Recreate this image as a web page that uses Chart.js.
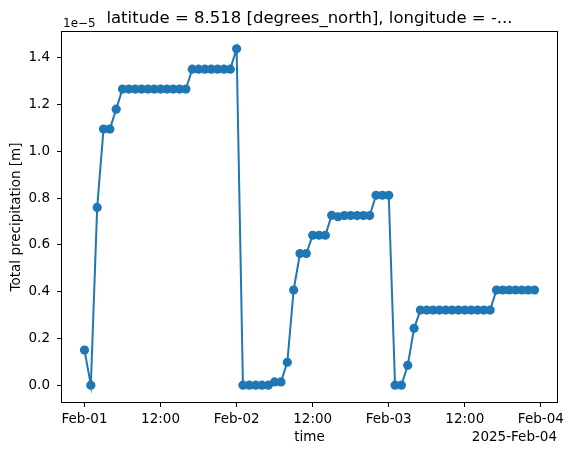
<!DOCTYPE html>
<html>
<head>
<meta charset="utf-8">
<script src="https://cdn.jsdelivr.net/npm/chart.js@4"></script>
<style>
  body { margin: 0; background: #fff; }
  #wrap { width: 574px; height: 455px; }
</style>
</head>
<body>
<div id="wrap"><canvas id="myChart" width="574" height="455"></canvas></div>
<script>
// hourly precipitation, in units of 1e-5 m, starting 2025-02-01 00:00
const precipValues = [
  0.15, 0, 0.76, 1.095, 1.095, 1.18,
  1.266, 1.266, 1.266, 1.266, 1.266, 1.266, 1.266, 1.266, 1.266, 1.266, 1.266,
  1.351, 1.351, 1.351, 1.351, 1.351, 1.351, 1.351,
  1.438,
  0, 0, 0, 0, 0, 0.014, 0.014, 0.098, 0.407, 0.563, 0.563,
  0.641, 0.641, 0.641,
  0.726, 0.72, 0.725, 0.725, 0.725, 0.725, 0.725,
  0.812, 0.812, 0.812,
  0, 0, 0.085, 0.243,
  0.321, 0.321, 0.321, 0.321, 0.321, 0.321, 0.321, 0.321, 0.321, 0.321, 0.321, 0.321,
  0.407, 0.407, 0.407, 0.407, 0.407, 0.407, 0.407,
];
const xTickHours = [0, 12, 24, 36, 48, 60, 72];
const xTickLabels = ["Feb-01", "12:00", "Feb-02", "12:00", "Feb-03", "12:00", "Feb-04"];
const yTicks = [0, 0.2, 0.4, 0.6, 0.8, 1.0, 1.2, 1.4];

const titleText = "latitude = 8.518 [degrees_north], longitude = -...";
const offsetText = "1e\u22125";
const dateOffsetText = "2025-Feb-04";
const blue = "#1f77b4";
const font = "DejaVu Sans";

const points = precipValues.map((v, i) => ({ x: i, y: v }));

// matplotlib-ish margins (5%)
const xPad = (precipValues.length - 1) * 0.05;
const yMax = Math.max(...precipValues);
const yPad = yMax * 0.05;

const extras = {
  id: "extras",
  afterDraw(chart) {
    const c = chart.ctx;
    const a = chart.chartArea;
    c.save();
    c.strokeStyle = "#000";
    c.lineWidth = 1;
    c.strokeRect(Math.round(a.left) - 0.5, Math.round(a.top) - 0.5,
      Math.round(a.right - a.left) + 1, Math.round(a.bottom - a.top) + 1);

    c.fillStyle = "#000";
    c.textBaseline = "alphabetic";
    c.font = `16.5px "${font}"`;
    c.textAlign = "center";
    c.fillText(titleText, (a.left + a.right) / 2, 23);

    c.font = `12px "${font}"`;
    c.textAlign = "left";
    c.fillText(offsetText, a.left + 1, 27);

    c.font = `13.5px "${font}"`;
    c.textAlign = "center";
    c.fillText("time", (a.left + a.right) / 2, 441);
    c.textAlign = "right";
    c.fillText(dateOffsetText, a.right, 441);

    c.translate(20, (a.top + a.bottom) / 2);
    c.rotate(-Math.PI / 2);
    c.textAlign = "center";
    c.fillText("Total precipitation [m]", 0, 0);
    c.restore();
  },
};

const lineChart = {
  type: "line",
  data: {
    datasets: [
      {
        data: points,
        borderColor: blue,
        backgroundColor: blue,
        borderWidth: 2,
        pointRadius: 4.6,
        pointBorderWidth: 0,
        pointBackgroundColor: blue,
        tension: 0,
      },
    ],
  },
  options: {
    responsive: false,
    animation: false,
    devicePixelRatio: 1,
    layout: { padding: { left: 0, top: 32, right: 17, bottom: 0 } },
    plugins: {
      legend: { display: false },
      tooltip: { enabled: false },
      title: { display: false },
    },
    scales: {
      x: {
        type: "linear",
        min: -xPad,
        max: precipValues.length - 1 + xPad,
        afterFit: (s) => { s.height = 53; },
        afterBuildTicks: (s) => { s.ticks = xTickHours.map((v) => ({ value: v })); },
        grid: { display: true, drawOnChartArea: false, drawTicks: true, tickLength: 5, color: "#000" },
        border: { display: false },
        ticks: {
          padding: 4,
          color: "#000",
          maxRotation: 0,
          font: { family: font, size: 13.5 },
          callback: (v) => xTickLabels[xTickHours.indexOf(v)],
        },
      },
      y: {
        type: "linear",
        min: -yPad,
        max: yMax + yPad,
        afterFit: (s) => { s.width = 62; },
        afterBuildTicks: (s) => { s.ticks = yTicks.map((v) => ({ value: v })); },
        grid: { display: true, drawOnChartArea: false, drawTicks: true, tickLength: 5, color: "#000" },
        border: { display: false },
        ticks: {
          padding: 7,
          color: "#000",
          font: { family: font, size: 13.5 },
          callback: (v) => v.toFixed(1),
        },
      },
    },
  },
  plugins: [extras],
};

const ctx = document.querySelector("#myChart").getContext("2d");
new Chart(ctx, lineChart);
</script>
</body>
</html>
